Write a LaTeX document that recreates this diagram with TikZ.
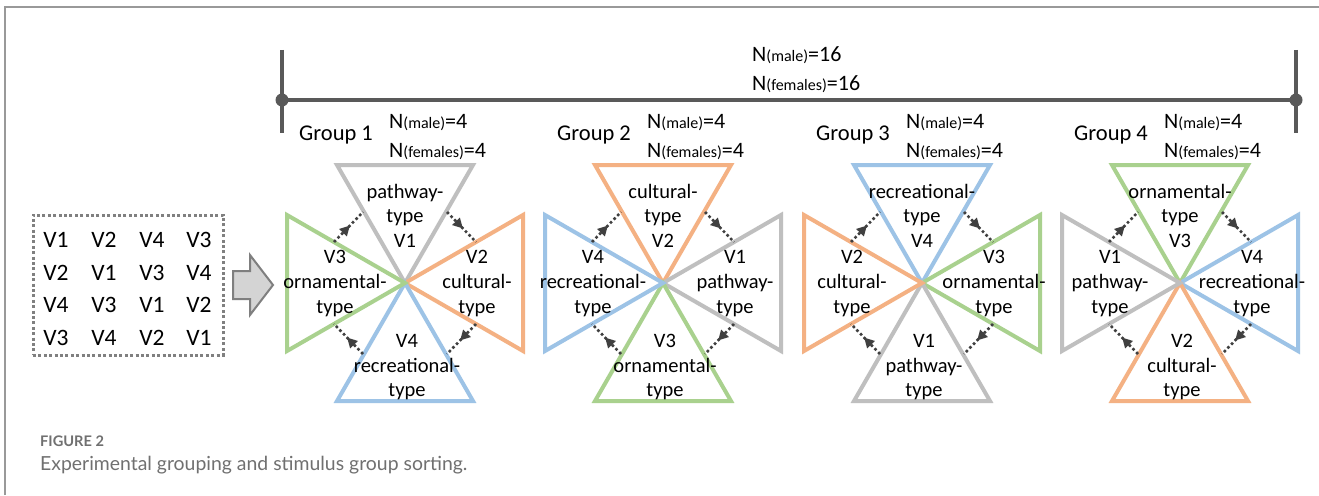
\documentclass[tikz,border=0pt]{standalone}
\usepackage{fontspec}
\setmainfont{Carlito}
\newfontfamily\capfont{Lato}
\usetikzlibrary{calc,decorations.markings,arrows.meta}
\definecolor{cgray}{HTML}{BFBFBF}
\definecolor{corange}{HTML}{F4B183}
\definecolor{cblue}{HTML}{9DC3E6}
\definecolor{cgreen}{HTML}{A9D18E}
\definecolor{cdark}{HTML}{595959}
\definecolor{cframe}{HTML}{999999}
\definecolor{cdotbox}{HTML}{808080}
\definecolor{ccap}{HTML}{707070}
\definecolor{carrowfill}{HTML}{D4D4D4}
\definecolor{carrowline}{HTML}{7F7F7F}

\newcommand\wpath{pathway-}\newcommand\vpath{V1}
\newcommand\wcult{cultural-}\newcommand\vcult{V2}
\newcommand\worn{ornamental-}\newcommand\vorn{V3}
\newcommand\wrec{recreational-}\newcommand\vrec{V4}
\newcommand\Nl[2]{N{\fontsize{16}{18}\selectfont(#1)}=#2}

\tikzset{
  tri/.style={line width=4pt},
  tpath/.style={draw=cgray},
  tcult/.style={draw=corange},
  torn/.style={draw=cgreen},
  trec/.style={draw=cblue},
  lbl/.style={font=\fontsize{20.5}{24}\selectfont, anchor=base, inner sep=0pt},
  glbl/.style={font=\fontsize{22.5}{26}\selectfont, anchor=base west, inner sep=0pt},
  nlbl/.style={font=\fontsize{22}{26}\selectfont, anchor=base west, inner sep=0pt},
  vlbl/.style={font=\fontsize{23.5}{26}\selectfont, anchor=base, inner sep=0pt},
  darr/.style={draw=black!75, line width=2.6pt, dash pattern=on 2.6pt off 2.6pt,
    postaction={decorate},
    decoration={markings, mark=at position 0.55 with {\arrow{Triangle[length=10pt,width=10pt]}}}},
  brk/.style={draw=cdark, line width=4pt},
}

\newcommand\grp[6]{%
  \coordinate (c#2) at (#1,283);
  \begin{scope}[shift={(c#2)}]
    \draw[tri,t#3] (0,0) -- (-68,-118) -- (68,-118) -- cycle;
    \draw[tri,t#4] (0,0) -- (118,-68) -- (118,68) -- cycle;
    \draw[tri,t#5] (0,0) -- (68,118) -- (-68,118) -- cycle;
    \draw[tri,t#6] (0,0) -- (-118,68) -- (-118,-68) -- cycle;
    \node[lbl] (g#2t1) at (0,-85) {\csname w#3\endcsname};
    \node[lbl] (g#2t2) at (0,-61) {type};
    \node[lbl] (g#2t3) at (0,-36) {\csname v#3\endcsname};
    \node[lbl] (g#2r1) at (72,-20) {\csname v#4\endcsname};
    \node[lbl] (g#2r2) at (72,5) {\csname w#4\endcsname};
    \node[lbl] (g#2r3) at (72,30) {type};
    \node[lbl] (g#2b1) at (2,64) {\csname v#5\endcsname};
    \node[lbl] (g#2b2) at (2,89) {\csname w#5\endcsname};
    \node[lbl] (g#2b3) at (2,113) {type};
    \node[lbl] (g#2l1) at (-70,-20) {\csname v#6\endcsname};
    \node[lbl] (g#2l2) at (-70,5) {\csname w#6\endcsname};
    \node[lbl] (g#2l3) at (-70,30) {type};
    \coordinate (g#2a1) at (-71,-41); \coordinate (g#2a2) at (-42,-71);
    \coordinate (g#2a3) at (42,-71);  \coordinate (g#2a4) at (71,-41);
    \coordinate (g#2a5) at (71,41);   \coordinate (g#2a6) at (42,71);
    \coordinate (g#2a7) at (-42,71);  \coordinate (g#2a8) at (-71,41);
    \draw[darr] (g#2a1) -- (g#2a2);
    \draw[darr] (g#2a3) -- (g#2a4);
    \draw[darr] (g#2a5) -- (g#2a6);
    \draw[darr] (g#2a7) -- (g#2a8);
  \end{scope}
  \node[glbl] (grp#2) at (#1-106,140) {Group #2};
  \node[nlbl] (n#2m) at (#1-16,128) {\Nl{male}{4}};
  \node[nlbl] (n#2f) at (#1-16,157) {\Nl{females}{4}};
}

\begin{document}
\begin{tikzpicture}[x=1pt,y=-1pt]
\useasboundingbox (0,0) rectangle (1319,495);
\fill[white] (0,0) rectangle (1319,495);
% frame
\coordinate (f1) at (5,495); \coordinate (f2) at (5,7); \coordinate (f3) at (1319,7);
\draw[cframe, line width=2pt] (f1) -- (f2) -- (f3);

% top bracket
\coordinate (bl) at (282,100); \coordinate (br) at (1296,100);
\draw[brk] (bl) -- (br);
\draw[brk] ($(bl)+(0,-50)$) -- ($(bl)+(0,33)$);
\draw[brk] ($(br)+(0,-50)$) -- ($(br)+(0,33)$);
\fill[cdark] (bl) circle (6.5pt);
\fill[cdark] (br) circle (6.5pt);
\node[nlbl] (totm) at (752,62) {\Nl{male}{16}};
\node[nlbl] (totf) at (752,90) {\Nl{females}{16}};

% left box
\node[draw=cdotbox, line width=3pt, dash pattern=on 3pt off 2.4pt,
      minimum width=190pt, minimum height=140pt, inner sep=0pt] (box) at (128,285) {};
\foreach \r/\y/\a/\b/\c/\d in {1/247/V1/V2/V4/V3, 2/280/V2/V1/V3/V4, 3/312/V4/V3/V1/V2, 4/345/V3/V4/V2/V1}{
  \node[vlbl] (v\r a) at (56,\y) {\a};
  \node[vlbl] (v\r b) at (104,\y) {\b};
  \node[vlbl] (v\r c) at (152,\y) {\c};
  \node[vlbl] (v\r d) at (199,\y) {\d};
}

% block arrow
\draw[fill=carrowfill, draw=carrowline, line width=2pt, line join=miter]
  (233,271) -- (250,271) -- (250,255) -- (273,285) -- (250,315) -- (250,299) -- (233,299) -- cycle;

% groups
\grp{405}{1}{path}{cult}{rec}{orn}
\grp{663}{2}{cult}{path}{orn}{rec}
\grp{922}{3}{rec}{orn}{path}{cult}
\grp{1180}{4}{orn}{rec}{cult}{path}

% caption
\node[anchor=base west, inner sep=0pt, font=\capfont\bfseries\fontsize{14.6}{16}\selectfont, text=ccap] (figlbl) at (40,446) {FIGURE 2};
\node[anchor=base west, inner sep=0pt, font=\capfont\fontsize{19.4}{22}\selectfont, text=ccap] (caption) at (40,470) {Experimental grouping and stimulus group sorting.};
\end{tikzpicture}
\end{document}
